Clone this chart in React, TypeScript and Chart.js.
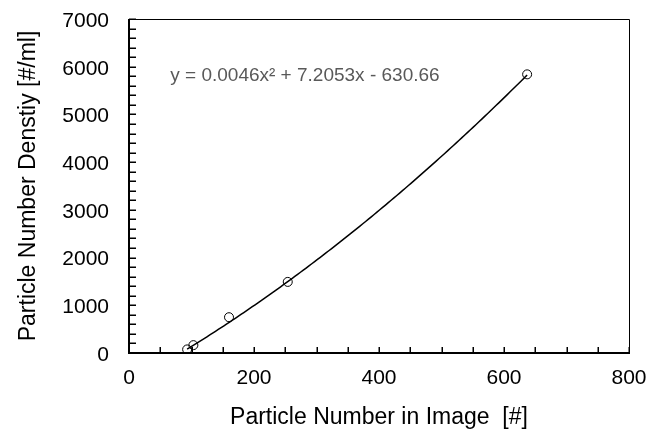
import React, { useEffect, useRef } from "react";
import { Chart, registerables } from "chart.js";

Chart.register(...registerables);

// ---- data ----
const xValues = [93, 103, 160, 254, 637];
const yValues = [75, 165, 750, 1490, 5840];
// trendline y = a x^2 + b x + c
const trendA = 0.0046;
const trendB = 7.2053;
const trendC = -630.66;
const equationText = "y = 0.0046x\u00B2 + 7.2053x - 630.66";
const xTickValues = [0, 200, 400, 600, 800];
const yTickValues = [0, 1000, 2000, 3000, 4000, 5000, 6000, 7000];
const xTitle = "Particle Number in Image  [#]";
const yTitle = "Particle Number Denstiy [#/ml]";

const FONT = '"Liberation Sans", Arial, sans-serif';

const framePlugin = {
  id: "frameAndTicks",
  afterDatasetsDraw(chart: any) {
    const { ctx, chartArea, scales } = chart;
    const { left, right, top, bottom } = chartArea;
    const xs = scales.x;
    const ys = scales.y;
    ctx.save();
    ctx.strokeStyle = "#000";
    ctx.lineWidth = 1;
    ctx.beginPath();
    ctx.moveTo(left, top + 0.5);
    ctx.lineTo(right + 0.5, top + 0.5);
    ctx.lineTo(right + 0.5, bottom);
    ctx.stroke();
    ctx.lineWidth = 2;
    ctx.beginPath();
    ctx.moveTo(left, top);
    ctx.lineTo(left, bottom);
    ctx.lineTo(right + 1, bottom);
    ctx.stroke();
    ctx.lineWidth = 1.5;
    ctx.beginPath();
    for (let v = 0; v <= 800; v += 50) {
      const px = Math.round(xs.getPixelForValue(v)) + 0.25;
      ctx.moveTo(px, bottom);
      ctx.lineTo(px, bottom - 6);
    }
    for (let v = 0; v <= 7000; v += 200) {
      const py = Math.round(ys.getPixelForValue(v)) + 0.25;
      ctx.moveTo(left, py);
      ctx.lineTo(left + 7, py);
    }
    ctx.stroke();
    ctx.fillStyle = "#595959";
    ctx.font = "19px " + FONT;
    ctx.textAlign = "left";
    ctx.textBaseline = "middle";
    ctx.fillText(equationText, xs.getPixelForValue(66), ys.getPixelForValue(5810));
    ctx.restore();
  },
};

const zeroPadding = (s: any) => {
  s.paddingTop = 0;
  s.paddingBottom = 0;
  s.paddingLeft = 0;
  s.paddingRight = 0;
};

export default function App() {
  const ref = useRef<HTMLCanvasElement | null>(null);

  useEffect(() => {
    if (!ref.current) return;
    const xMin = Math.min(...xValues);
    const xMax = Math.max(...xValues);
    const trend: { x: number; y: number }[] = [];
    const steps = 120;
    for (let i = 0; i <= steps; i++) {
      const x = xMin + ((xMax - xMin) * i) / steps;
      trend.push({ x, y: trendA * x * x + trendB * x + trendC });
    }
    const points = xValues.map((x, i) => ({ x, y: yValues[i] }));

    const chart = new Chart(ref.current, {
      type: "scatter",
      data: {
        datasets: [
          {
            label: "trend",
            data: trend,
            showLine: true,
            borderColor: "#000",
            borderWidth: 1.5,
            pointRadius: 0,
            tension: 0,
            order: 2,
          } as any,
          {
            label: "data",
            data: points,
            showLine: false,
            pointRadius: 4.5,
            pointBorderWidth: 1,
            pointBorderColor: "#000",
            pointBackgroundColor: "rgba(0,0,0,0)",
            order: 1,
          },
        ],
      },
      options: {
        responsive: false,
        animation: false,
        devicePixelRatio: 1,
        layout: { padding: { top: 19, right: 22, left: 0, bottom: 0 } },
        plugins: {
          legend: { display: false },
          tooltip: { enabled: false },
        },
        scales: {
          x: {
            type: "linear",
            min: 0,
            max: 800,
            grid: { display: false, drawTicks: false },
            border: { display: false },
            afterBuildTicks: (s: any) => {
              s.ticks = xTickValues.map((v) => ({ value: v }));
            },
            afterFit: (s: any) => {
              s.height = 79;
              zeroPadding(s);
            },
            ticks: {
              color: "#000",
              font: { family: FONT, size: 21 },
              padding: 13,
              maxRotation: 0,
              callback: (v: any) => String(v),
            },
            title: {
              display: true,
              text: xTitle,
              color: "#000",
              font: { family: FONT, size: 23 },
              padding: { top: 0, bottom: 1 },
            },
          },
          y: {
            type: "linear",
            min: 0,
            max: 7000,
            grid: { display: false, drawTicks: false },
            border: { display: false },
            afterBuildTicks: (s: any) => {
              s.ticks = yTickValues.map((v) => ({ value: v }));
            },
            afterFit: (s: any) => {
              s.width = 129;
              zeroPadding(s);
            },
            ticks: {
              color: "#000",
              font: { family: FONT, size: 21 },
              padding: 20,
              labelOffset: 2,
              callback: (v: any) => String(v),
            },
            title: {
              display: true,
              text: yTitle,
              color: "#000",
              font: { family: FONT, size: 23 },
              padding: { top: 15, bottom: 0 },
            },
          },
        },
      },
      plugins: [framePlugin],
    });
    return () => chart.destroy();
  }, []);

  return (
    <div style={{ position: "absolute", left: 0, top: 0, width: 651, height: 432, background: "#fff" }}>
      <canvas ref={ref} width={651} height={432} style={{ width: 651, height: 432, display: "block" }} />
    </div>
  );
}
